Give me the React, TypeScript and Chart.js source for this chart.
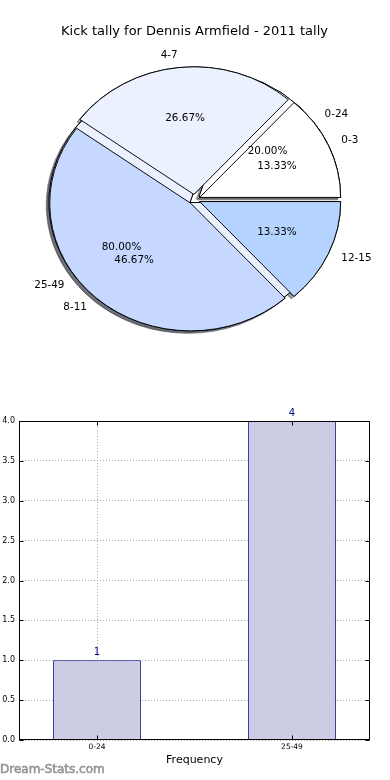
import React, { useEffect, useRef } from 'react';
import { Chart, registerables } from 'chart.js';

Chart.register(...registerables);
Chart.defaults.font.family = "'DejaVu Sans', sans-serif";

// ---------------- data ----------------
const pieTitle = 'Kick tally for Dennis Armfield - 2011 tally';

const quarterLabels = ['0-3', '4-7', '8-11', '12-15'];
const quarterValues = [2, 4, 7, 2];
const quarterColors = ['#ffffff', '#ebf1ff', '#c6d8ff', '#b4d4ff'];
const quarterExplode = [0.04, 0.04, 0.04, 0.04];

const rangeLabels = ['0-24', '25-49'];
const rangeValues = [1, 4];
const rangeColors = ['#ffffff', '#ebf1ff'];
const rangeExplode = [0.04, 0.04];

const barCategories = ['0-24', '25-49'];
const barValues = [1, 4];
const yTickValues = [0, 0.5, 1, 1.5, 2, 2.5, 3, 3.5, 4];
const xAxisTitle = 'Frequency';
const watermarkText = 'Dream-Stats.com';

// ---------------- style ----------------
const W = 390;
const PIE_H = 360;
const BAR_TOP = 380;
const BAR_H = 400;
const PIE_RADIUS = 141;
const Y_SQUASH = 0.905;
const LABEL_DIST = 1.1;
const PCT_DIST = 0.6;
const SHADOW_DX = -2.8;
const SHADOW_DY = 2.5;
const PIE_FONT = "10.4px 'DejaVu Sans', sans-serif";

function rev(a: any[]) {
  return a.slice().reverse();
}

function shade(hex: string) {
  const r = parseInt(hex.slice(1, 3), 16);
  const g = parseInt(hex.slice(3, 5), 16);
  const b = parseInt(hex.slice(5, 7), 16);
  return `rgba(${Math.round(r * 0.3)},${Math.round(g * 0.3)},${Math.round(b * 0.3)},0.5)`;
}

function centerY(chart: any) {
  const ca = chart.chartArea;
  return (ca.top + ca.bottom) / 2;
}

const explodePlugin = (fr: number[]) => ({
  id: 'explode',
  afterDatasetsUpdate(chart: any) {
    const meta = chart.getDatasetMeta(0);
    meta.data.forEach((el: any, i: number) => {
      const mid = (el.startAngle + el.endAngle) / 2;
      const d = (fr[i] || 0) * el.outerRadius;
      el.x += d * Math.cos(mid);
      el.y += d * Math.sin(mid);
    });
  },
});

const ellipsePlugin = {
  id: 'ellipse',
  beforeDatasetsDraw(chart: any) {
    const ctx = chart.ctx;
    const cy = centerY(chart);
    ctx.save();
    ctx.translate(0, cy);
    ctx.scale(1, Y_SQUASH);
    ctx.translate(0, -cy);
  },
  afterDatasetsDraw(chart: any) {
    chart.ctx.restore();
  },
};

function pieConfig(values: number[], colors: string[], explode: number[], titleColor: string, extra: any[]) {
  return {
    type: 'pie' as const,
    data: {
      datasets: [
        {
          data: rev(values),
          backgroundColor: rev(colors),
          borderColor: '#000000',
          borderWidth: 1,
          borderJoinStyle: 'miter',
          clip: false,
        },
      ],
    },
    options: {
      responsive: false,
      animation: false,
      events: [],
      rotation: 90,
      radius: PIE_RADIUS,
      layout: { padding: { left: 0, right: 1, top: 0, bottom: 10.6 } },
      plugins: {
        legend: { display: false },
        tooltip: { enabled: false },
        title: {
          display: true,
          text: pieTitle,
          color: titleColor,
          font: { size: 13, weight: 'normal' },
          padding: { top: 24, bottom: 10 },
        },
      },
    },
    plugins: [explodePlugin(rev(explode)), ellipsePlugin, ...extra],
  };
}

export default function App() {
  const pieBackRef = useRef<HTMLCanvasElement>(null);
  const pieFrontRef = useRef<HTMLCanvasElement>(null);
  const barRef = useRef<HTMLCanvasElement>(null);

  useEffect(() => {
    const shared: any = { front: null, back: null };

    const labelPlugin = {
      id: 'pieLabels',
      afterDraw(chart: any) {
        const ctx = chart.ctx;
        const cy = centerY(chart);
        const sets: any[] = [];
        if (shared.back) sets.push({ meta: shared.back.getDatasetMeta(0), labels: rev(rangeLabels), values: rev(rangeValues) });
        sets.push({ meta: chart.getDatasetMeta(0), labels: rev(quarterLabels), values: rev(quarterValues) });
        ctx.save();
        ctx.font = PIE_FONT;
        ctx.fillStyle = '#000000';
        ctx.textBaseline = 'middle';
        sets.forEach((s) => {
          const total = s.values.reduce((a: number, b: number) => a + b, 0);
          s.meta.data.forEach((el: any, i: number) => {
            const mid = (el.startAngle + el.endAngle) / 2;
            const R = el.outerRadius;
            const c = Math.cos(mid);
            const sn = Math.sin(mid);
            const lx = el.x + LABEL_DIST * R * c;
            const ly = cy + (el.y + LABEL_DIST * R * sn - cy) * Y_SQUASH;
            ctx.textAlign = c > 0 ? 'left' : 'right';
            ctx.fillText(s.labels[i], lx, ly);
            const px = el.x + PCT_DIST * R * c;
            const py = cy + (el.y + PCT_DIST * R * sn - cy) * Y_SQUASH;
            ctx.textAlign = 'center';
            ctx.fillText(((s.values[i] / total) * 100).toFixed(2) + '%', px, py);
          });
        });
        ctx.restore();
      },
    };

    const shadowPlugin = {
      id: 'pieShadows',
      beforeDatasetsDraw(chart: any) {
        const ctx = chart.ctx;
        const groups: any[] = [{ meta: chart.getDatasetMeta(0), colors: rev(rangeColors) }];
        if (shared.front) groups.push({ meta: shared.front.getDatasetMeta(0), colors: rev(quarterColors) });
        groups.forEach((g) => {
          g.meta.data.forEach((el: any, i: number) => {
            ctx.save();
            ctx.shadowColor = shade(g.colors[i]);
            ctx.shadowOffsetX = SHADOW_DX;
            ctx.shadowOffsetY = SHADOW_DY;
            ctx.shadowBlur = 0;
            el.draw(ctx);
            ctx.restore();
          });
        });
      },
    };

    const front = new Chart(
      pieFrontRef.current as HTMLCanvasElement,
      pieConfig(quarterValues, quarterColors, quarterExplode, '#000000', [labelPlugin]) as any
    );
    shared.front = front;
    const back = new Chart(
      pieBackRef.current as HTMLCanvasElement,
      pieConfig(rangeValues, rangeColors, rangeExplode, 'rgba(0,0,0,0)', [shadowPlugin]) as any
    );
    shared.back = back;
    front.update();

    const barPlugin = {
      id: 'barDecor',
      afterDraw(chart: any) {
        const ctx = chart.ctx;
        const ca = chart.chartArea;
        const xs = chart.scales.x;
        const ys = chart.scales.y;
        ctx.save();
        ctx.strokeStyle = '#000000';
        ctx.lineWidth = 1;
        const L = Math.round(ca.left) + 0.5;
        const Rr = Math.round(ca.right) - 0.5;
        const T = Math.round(ca.top) + 0.5;
        const B = Math.round(ca.bottom) - 0.5;
        ctx.strokeRect(L, T, Rr - L, B - T);
        ctx.beginPath();
        yTickValues.forEach((v) => {
          const y = Math.round(ys.getPixelForValue(v)) + 0.5;
          ctx.moveTo(L, y);
          ctx.lineTo(L + 4, y);
          ctx.moveTo(Rr, y);
          ctx.lineTo(Rr - 4, y);
        });
        barCategories.forEach((_, i) => {
          const x = Math.round(xs.getPixelForValue(i)) + 0.5;
          ctx.moveTo(x, B);
          ctx.lineTo(x, B - 4);
          ctx.moveTo(x, T);
          ctx.lineTo(x, T + 4);
        });
        ctx.stroke();

        const meta = chart.getDatasetMeta(0);
        ctx.fillStyle = '#000080';
        ctx.font = "10px 'DejaVu Sans', sans-serif";
        ctx.textAlign = 'center';
        ctx.textBaseline = 'alphabetic';
        meta.data.forEach((el: any, i: number) => {
          ctx.fillText(String(barValues[i]), el.x, el.y - 5);
        });

        ctx.fillStyle = '#959595';
        ctx.strokeStyle = '#959595';
        ctx.lineWidth = 0.6;
        ctx.font = "12px 'DejaVu Sans', sans-serif";
        ctx.textAlign = 'left';
        ctx.textBaseline = 'middle';
        ctx.fillText(watermarkText, 0, chart.height - 10);
        ctx.strokeText(watermarkText, 0, chart.height - 10);
        ctx.restore();
      },
    };

    const grid = { color: '#a8a8a8', lineWidth: 1, drawTicks: false, offset: false };
    const bar = new Chart(barRef.current as HTMLCanvasElement, {
      type: 'bar',
      data: {
        datasets: [
          {
            data: barCategories.map((_, i) => ({ x: i, y: barValues[i] })),
            backgroundColor: '#ccccE5',
            borderColor: '#000080',
            borderWidth: 1,
            borderSkipped: 'start',
            barPercentage: 0.45,
            categoryPercentage: 1,
          } as any,
        ],
      },
      options: {
        responsive: false,
        animation: false,
        events: [],
        layout: { padding: { top: 41, right: 20, left: 0, bottom: 0 } },
        plugins: { legend: { display: false }, tooltip: { enabled: false } },
        scales: {
          x: {
            type: 'linear',
            min: -0.4,
            max: 1.4,
            offset: false,
            z: 1,
            grid: grid,
            border: { display: false, dash: [1, 2] },
            afterBuildTicks: (s: any) => {
              s.ticks = barCategories.map((_, i) => ({ value: i }));
            },
            afterFit: (s: any) => {
              s.height = 40;
            },
            ticks: {
              callback: (v: any) => barCategories[Number(v)],
              font: { size: 7.5 },
              color: '#000000',
              padding: 3,
              autoSkip: false,
              maxRotation: 0,
            },
            title: {
              display: true,
              text: xAxisTitle,
              color: '#000000',
              font: { size: 11 },
              padding: { top: 0, bottom: 13 },
            },
          },
          y: {
            min: 0,
            max: 4,
            z: 1,
            grid: grid,
            border: { display: false, dash: [1, 2] },
            afterBuildTicks: (s: any) => {
              s.ticks = yTickValues.map((v) => ({ value: v }));
            },
            afterFit: (s: any) => {
              s.width = 19;
            },
            ticks: {
              callback: (v: any) => Number(v).toFixed(1),
              font: { size: 8 },
              color: '#000000',
              padding: 4,
            },
          },
        },
      } as any,
      plugins: [barPlugin],
    });

    return () => {
      front.destroy();
      back.destroy();
      bar.destroy();
    };
  }, []);

  const abs = (top: number, h: number): React.CSSProperties => ({
    position: 'absolute',
    left: 0,
    top,
    width: W,
    height: h,
  });

  return (
    <div style={{ position: 'fixed', left: 0, top: 0, width: W, height: 780, background: '#ffffff', overflow: 'hidden' }}>
      <canvas ref={pieBackRef} width={W} height={PIE_H} style={abs(0, PIE_H)} />
      <canvas ref={pieFrontRef} width={W} height={PIE_H} style={abs(0, PIE_H)} />
      <canvas ref={barRef} width={W} height={BAR_H} style={abs(BAR_TOP, BAR_H)} />
    </div>
  );
}
